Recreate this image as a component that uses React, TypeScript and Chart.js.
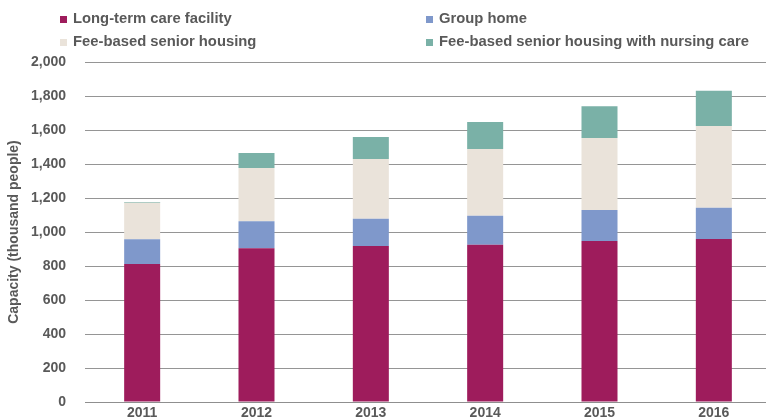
import React, { useEffect, useRef } from "react";
import { Chart, registerables } from "chart.js";

Chart.register(...registerables);

const years = ["2011", "2012", "2013", "2014", "2015", "2016"];
const longTermCare = [812, 904, 918, 925, 947, 959];
const groupHome = [145, 159, 160, 171, 182, 184];
const feeBased = [215, 313, 351, 392, 424, 481];
const feeBasedNursing = [5, 89, 130, 159, 186, 207];
const seriesLabels = [
  "Long-term care facility",
  "Group home",
  "Fee-based senior housing",
  "Fee-based senior housing with nursing care",
];
const colors = ["#9E1C5C", "#7F98CB", "#EAE3DA", "#7AB1A7"];

const FONT = "'Liberation Sans', Arial, Helvetica, sans-serif";
const TEXT = "#595959";

export default function App() {
  const ref = useRef<HTMLCanvasElement | null>(null);

  useEffect(() => {
    if (!ref.current) return;
    const values = [longTermCare, groupHome, feeBased, feeBasedNursing];
    const chart = new Chart(ref.current, {
      type: "bar",
      data: {
        labels: years,
        datasets: values.map((d, i) => ({
          label: seriesLabels[i],
          data: d,
          backgroundColor: colors[i],
          borderWidth: 0,
          categoryPercentage: 1,
          barPercentage: 0.315,
        })),
      },
      options: {
        responsive: false,
        animation: false,
        devicePixelRatio: 1,
        layout: { padding: { top: 62, right: 1, left: 0, bottom: 0 } },
        plugins: {
          legend: { display: false },
          tooltip: { enabled: false },
        },
        scales: {
          x: {
            stacked: true,
            grid: { display: false, drawTicks: false, tickLength: 0 },
            border: { display: true, color: "#8f8f8f", width: 1 },
            ticks: {
              color: TEXT,
              font: { family: FONT, size: 14, weight: "bold" },
              padding: 3,
              maxRotation: 0,
            },
            afterFit: (s: any) => {
              s.height = 18;
            },
          },
          y: {
            stacked: true,
            min: 0,
            max: 2000,
            grid: { color: "#959595", lineWidth: 1, drawTicks: false },
            border: { display: false },
            ticks: {
              stepSize: 200,
              color: TEXT,
              font: { family: FONT, size: 14, weight: "bold" },
              padding: 19,
            },
            title: {
              display: true,
              text: "Capacity (thousand people)",
              color: TEXT,
              font: { family: FONT, size: 14, weight: "bold" },
              padding: { top: 6, bottom: 0 },
            },
            afterFit: (s: any) => {
              s.width = 85;
              s.paddingTop = 0;
              s.paddingBottom = 0;
            },
          },
        },
      },
    });
    return () => chart.destroy();
  }, []);

  const legendItems = [
    { i: 0, boxX: 60, textX: 73, top: 16, textTop: 11 },
    { i: 1, boxX: 426, textX: 439, top: 16, textTop: 11 },
    { i: 2, boxX: 60, textX: 73, top: 39, textTop: 34 },
    { i: 3, boxX: 426, textX: 439, top: 39, textTop: 34 },
  ];

  return (
    <div
      style={{
        position: "fixed",
        left: 0,
        top: 0,
        width: 766,
        height: 420,
        overflow: "hidden",
        background: "#fff",
      }}
    >
      <canvas ref={ref} width={772} height={420} style={{ position: "absolute", left: 0, top: 0 }} />
      {legendItems.map((it) => (
        <React.Fragment key={it.i}>
          <span
            style={{
              position: "absolute",
              left: it.boxX,
              top: it.top,
              width: 7,
              height: 7,
              background: colors[it.i],
            }}
          />
          <span
            style={{
              position: "absolute",
              left: it.textX,
              top: it.textTop,
              fontFamily: FONT,
              fontWeight: "bold",
              fontSize: 14.8,
              lineHeight: "15px",
              color: TEXT,
              whiteSpace: "nowrap",
            }}
          >
            {seriesLabels[it.i]}
          </span>
        </React.Fragment>
      ))}
    </div>
  );
}
